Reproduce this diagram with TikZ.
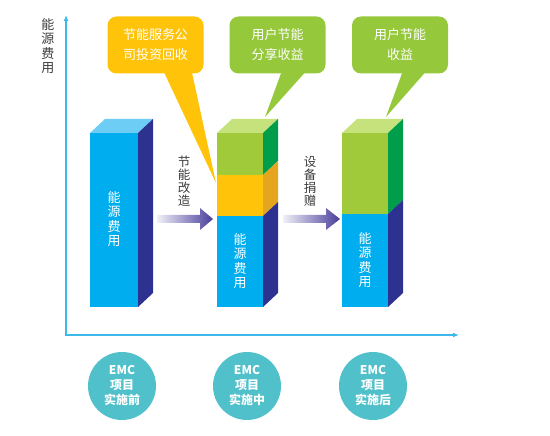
\documentclass[tikz,border=0pt]{standalone}
\usepackage{fontspec}
\setmainfont{Noto Sans CJK SC}
\usetikzlibrary{arrows.meta}
\definecolor{axisc}{RGB}{60,185,235}
\definecolor{bluef}{RGB}{0,174,239}
\definecolor{blues}{RGB}{45,50,145}
\definecolor{bluet}{RGB}{110,205,245}
\definecolor{greenf}{RGB}{160,202,58}
\definecolor{greens}{RGB}{0,158,75}
\definecolor{greent}{RGB}{198,226,125}
\definecolor{yelf}{RGB}{255,196,10}
\definecolor{yels}{RGB}{230,165,30}
\definecolor{callg}{RGB}{150,200,60}
\definecolor{tealc}{RGB}{80,192,202}
\definecolor{arrc}{RGB}{72,62,155}
\definecolor{txtg}{RGB}{60,60,60}
\tikzset{
  callbox/.style={rounded corners=9pt, minimum width=96pt, minimum height=57pt, inner sep=0pt,
    align=center, text=white, font=\fontsize{13}{20}\selectfont},
  vtext/.style={align=center, inner sep=0pt, font=\fontsize{13}{14.5}\selectfont},
  emc/.style={circle, fill=tealc, minimum size=68pt, inner sep=0pt, align=center, text=white,
    font=\bfseries\fontsize{12}{15}\selectfont},
  axisline/.style={draw=axisc, line width=1.3pt},
}
\begin{document}
\begin{tikzpicture}[x=1pt,y=-1pt]
\useasboundingbox (0,0) rectangle (550,436);
% axes
\coordinate (origin) at (66,335);
\coordinate (ytop) at (66,15);
\coordinate (xend) at (459,335);
\draw[axisline, {Latex[length=6pt,width=5pt]}-{Latex[length=6pt,width=5pt]}] (ytop) -- (origin) -- (xend);
\node[vtext, text=txtg] (ylab) at (48,46) {能\\源\\费\\用};

% callout tails
\fill[yelf] (162,68) -- (216,183) -- (191,68) -- cycle;
\fill[callg] (283,68) -- (265,117) -- (309,68) -- cycle;
\fill[callg] (404,68) -- (386,117) -- (429,68) -- cycle;
% callout boxes
\node[callbox, fill=yelf] (cb1) at (155.5,45) {节能服务公\\司投资回收};
\node[callbox, fill=callg] (cb2) at (277.5,45) {用户节能\\分享收益};
\node[callbox, fill=callg] (cb3) at (400,45) {用户节能\\收益};

% bar 1
\fill[bluet] (90,133) -- (105,119) -- (153,119) -- (138,133) -- cycle;
\fill[bluef] (90,133) rectangle (138,307);
\fill[blues] (138,133) -- (153,119) -- (153,293) -- (138,307) -- cycle;
\node[vtext, text=white] (b1lab) at (114,219) {能\\源\\费\\用};

% bar 2
\fill[greent] (217,133) -- (232,119) -- (278,119) -- (263,133) -- cycle;
\fill[greenf] (217,133) rectangle (263,175);
\fill[yelf] (217,175) rectangle (263,216);
\fill[bluef] (217,216) rectangle (263,307);
\fill[greens] (263,133) -- (278,119) -- (278,161) -- (263,175) -- cycle;
\fill[yels] (263,175) -- (278,161) -- (278,202) -- (263,216) -- cycle;
\fill[blues] (263,216) -- (278,202) -- (278,293) -- (263,307) -- cycle;
\node[vtext, text=white] (b2lab) at (240,261) {能\\源\\费\\用};

% bar 3
\fill[greent] (342,133) -- (357,119) -- (403,119) -- (388,133) -- cycle;
\fill[greenf] (342,133) rectangle (388,214);
\fill[bluef] (342,214) rectangle (388,307);
\fill[greens] (388,133) -- (403,119) -- (403,200) -- (388,214) -- cycle;
\fill[blues] (388,214) -- (403,200) -- (403,293) -- (388,307) -- cycle;
\node[vtext, text=white] (b3lab) at (365,260) {能\\源\\费\\用};

% arrows
\coordinate (a1s) at (157,219);
\coordinate (a1e) at (213,219);
\shade[left color=arrc!8, right color=arrc] (a1s) ++(0,-4) -- (200,215) -- (200,208) -- (a1e) -- (200,230) -- (200,223) -- (157,223) -- cycle;
\node[vtext, text=txtg, font=\fontsize{12.5}{13}\selectfont] (a1lab) at (184,181) {节\\能\\改\\造};
\coordinate (a2s) at (283,219);
\coordinate (a2e) at (340,219);
\shade[left color=arrc!8, right color=arrc] (a2s) ++(0,-4) -- (326,215) -- (326,208) -- (a2e) -- (326,230) -- (326,223) -- (283,223) -- cycle;
\node[vtext, text=txtg, font=\fontsize{12.5}{13}\selectfont] (a2lab) at (310,181) {设\\备\\捐\\赠};

% circles
\node[emc] (c1) at (122,386) {EMC\\项目\\实施前};
\node[emc] (c2) at (247,386) {EMC\\项目\\实施中};
\node[emc] (c3) at (373,386) {EMC\\项目\\实施后};
\end{tikzpicture}
\end{document}
